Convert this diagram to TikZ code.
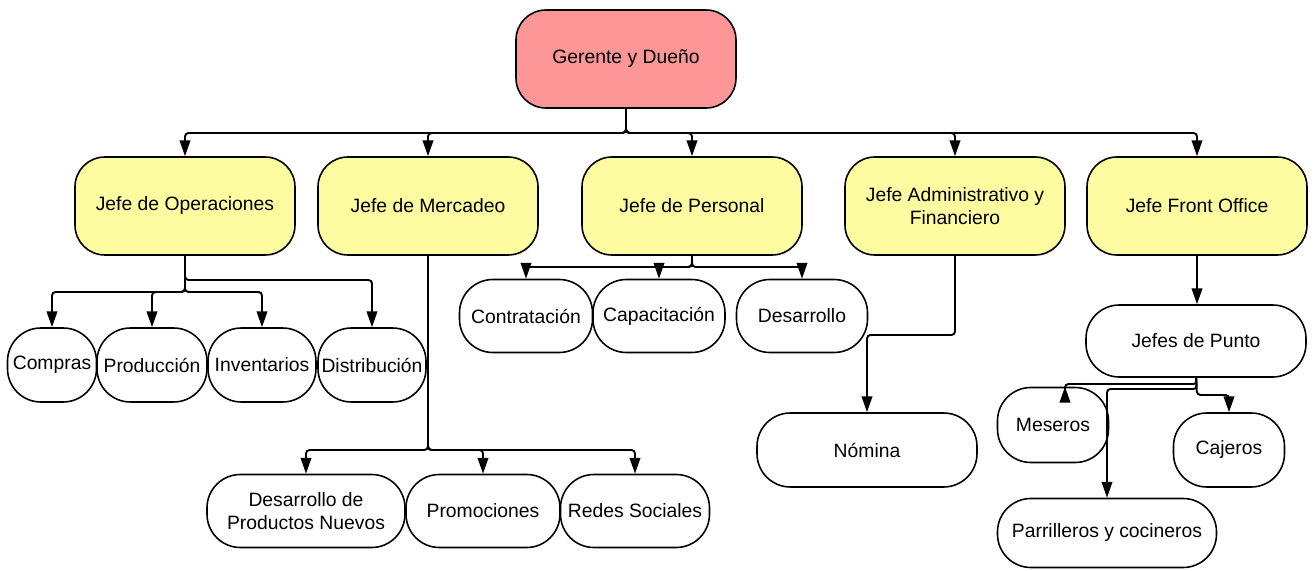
\documentclass[tikz,border=0pt]{standalone}
\usepackage{fontspec}
\setmainfont{Liberation Sans}
\usetikzlibrary{arrows.meta}
\newlength{\unitpx}
\setlength{\unitpx}{0.02cm}
\definecolor{chart-rose}{RGB}{253, 150, 150}
\definecolor{chart-yellow}{RGB}{253, 252, 160}

\tikzset{
  every node/.style={font=\fontsize{11}{13}\selectfont, inner xsep=1pt, inner ysep=1pt},
  bossbox/.style={draw=black, line width=0.9pt, fill=chart-yellow, rounded corners=17pt,
    minimum width=220\unitpx, minimum height=98\unitpx, align=center},
  unitbox/.style 2 args={draw=black, line width=0.9pt, fill=white, rounded corners=19pt,
    minimum width=#1\unitpx, minimum height=#2\unitpx, align=center},
  link/.style={line width=1.1pt, rounded corners=2pt, -{Triangle[length=9pt, width=6pt]}},
}

\begin{document}
\begin{tikzpicture}[x=0.02cm, y=-0.02cm]
\useasboundingbox (0,0) rectangle (1313,571);

% top level
\node[bossbox, fill=chart-rose] (ger) at (626,59) {Gerente y Dueño};

\node[bossbox] (ops) at (185,206) {Jefe de Operaciones};
\node[bossbox] (mer) at (428,206) {Jefe de Mercadeo};
\node[bossbox] (per) at (692,206) {Jefe de Personal};
\node[bossbox] (adm) at (955,206) {Jefe Administrativo y\\Financiero};
\node[bossbox] (fro) at (1197,206) {Jefe Front Office};

% operaciones
\node[unitbox={89}{74}] (com) at (52,365) {Compras};
\node[unitbox={110}{74}] (pro) at (152,365) {Producción};
\node[unitbox={108}{74}] (inv) at (262,365) {Inventarios};
\node[unitbox={108}{74}] (dis) at (372,365) {Distribución};

% mercadeo
\node[unitbox={198}{73}] (dpn) at (306,511) {Desarrollo de\\Productos Nuevos};
\node[unitbox={154}{73}] (prm) at (483,511) {Promociones};
\node[unitbox={149}{73}] (red) at (635,511) {Redes Sociales};

% personal
\node[unitbox={133}{73}] (con) at (526,316) {Contratación};
\node[unitbox={132}{73}] (cap) at (659,316) {Capacitación};
\node[unitbox={131}{73}] (des) at (802,316) {Desarrollo};

% administrativo
\node[unitbox={220}{74}] (nom) at (867,450) {Nómina};

% front office
\node[unitbox={220}{72}] (pun) at (1196,341) {Jefes de Punto};
\node[unitbox={111}{75}] (mes) at (1053,425) {Meseros};
\node[unitbox={111}{74}] (caj) at (1229,450) {Cajeros};
\node[unitbox={219}{69}] (par) at (1107,533) {Parrilleros y cocineros};

% connectors
\coordinate (topbus) at (626,133);
\foreach \n in {ops,mer,per,adm,fro}
  \draw[link] (ger.south) -- (topbus) -| (\n.north);

\coordinate (opsbus) at (185,292);
\coordinate (disbus) at (185,280);
\foreach \n in {com,pro,inv}
  \draw[link] (ops.south) -- (opsbus) -| (\n.north);
\draw[link] (ops.south) -- (disbus) -| (dis.north);

\coordinate (merbus) at (428,450);
\foreach \n in {dpn,prm,red}
  \draw[link] (mer.south) -- (merbus) -| (\n.north);

\coordinate (perbus) at (692,267);
\foreach \n in {con,cap,des}
  \draw[link] (per.south) -- (perbus) -| (\n.north);

\coordinate (admbend) at (955,335);
\draw[link] (adm.south) -- (admbend) -| (nom.north);

\draw[link] (fro.south) -- (fro.south |- pun.north);

\coordinate (mesbus) at (1197,384);
\coordinate (parbus) at (1197,389);
\coordinate (cajbus) at (1197,395);
\draw[link] (pun.south) -- (mesbus) -| ([xshift=12\unitpx]mes.north);
\draw[link] (pun.south) -- (parbus) -| (par.north);
\draw[link] (pun.south) -- (cajbus) -| (caj.north);
\end{tikzpicture}
\end{document}
